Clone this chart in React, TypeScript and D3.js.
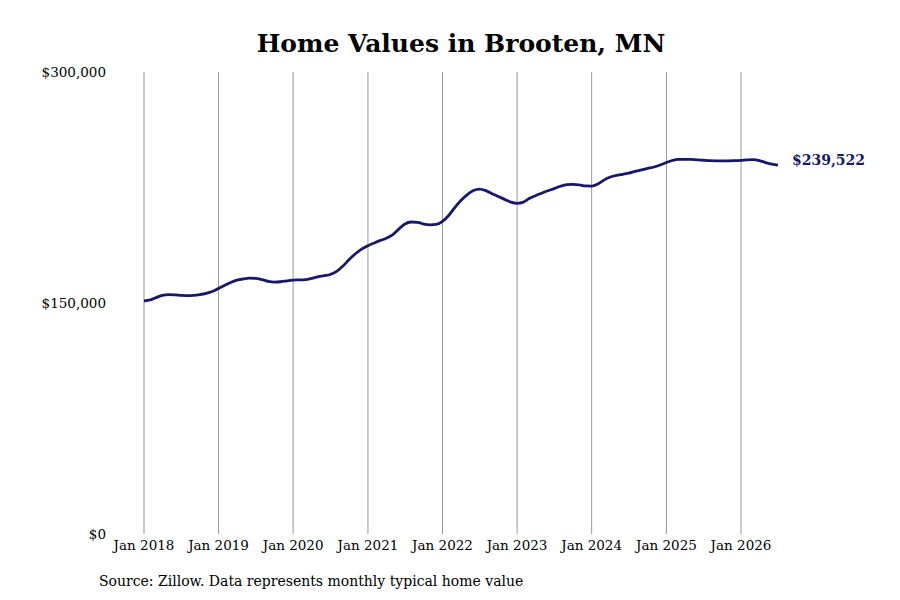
import React from "react";
import * as d3 from "d3";

const startYear = 2018;
const startMonth = 0;
const values: number[] = [
  151300, 152000, 153500, 155000, 155400, 155300, 155000, 154800, 155000, 155500, 156300, 157500,
  159500, 161500, 163300, 164800, 165600, 166100, 166000, 165200, 164000, 163500, 163800, 164400,
  164900, 165000, 165200, 166000, 167000, 167700, 168500, 170500, 174000, 178200, 182000, 185000,
  187200, 189000, 190500, 192000, 194200, 198000, 201300, 202600, 202400, 201200, 200700, 201000,
  203000, 207000, 211800, 216500, 220200, 223000, 224000, 223000, 221000, 219200, 217300, 215500,
  214700, 215500, 217800, 219700, 221300, 222900, 224300, 225800, 226800, 227000, 226700, 226000,
  225900, 227300, 229800, 231800, 232900, 233600, 234300, 235500, 236500, 237400, 238300, 239600,
  241200, 242600, 243200, 243300, 243200, 243000, 242700, 242400, 242300, 242300, 242300, 242400,
  242600, 243000, 243100, 242500, 241200, 240100, 239522,
];
const tickYears = [2018, 2019, 2020, 2021, 2022, 2023, 2024, 2025, 2026];
const yTicks = [0, 150000, 300000];
const title = "Home Values in Brooten, MN";
const source = "Source: Zillow. Data represents monthly typical home value";

const data = values.map((v, i) => ({ date: new Date(startYear, startMonth + i, 1), value: v }));

export default function App() {
  const W = 900, H = 600;
  const x = d3.scaleTime().domain([new Date(2018, 0, 1), new Date(2026, 0, 1)]).range([144, 741]);
  const y = d3.scaleLinear().domain([0, 300000]).range([534, 72]);
  const line = d3
    .line<{ date: Date; value: number }>()
    .x((d) => x(d.date))
    .y((d) => y(d.value))
    .curve(d3.curveMonotoneX);
  const fmt = d3.format("$,");
  const last = data[data.length - 1];
  const font = "'DejaVu Serif', serif";
  return (
    <svg width={W} height={H} style={{ position: "absolute", left: 0, top: 0, background: "#fff" }} fontFamily={font}>
      <rect width={W} height={H} fill="#fff" />
      <text x={461} y={52} textAnchor="middle" fontSize={25} fontWeight="bold" fill="#000">
        {title}
      </text>
      {tickYears.map((yr) => {
        const xx = x(new Date(yr, 0, 1));
        return (
          <g key={yr}>
            <line x1={xx} x2={xx} y1={y(300000)} y2={y(0)} stroke="#999" strokeWidth={1} />
            <text x={xx} y={550} textAnchor="middle" fontSize={13.5} fill="#000">
              {`Jan ${yr}`}
            </text>
          </g>
        );
      })}
      {yTicks.map((t) => (
        <text key={t} x={106} y={y(t) + 5} textAnchor="end" fontSize={13.5} fill="#000">
          {fmt(t)}
        </text>
      ))}
      <path d={line(data) || ""} fill="none" stroke="#17176b" strokeWidth={2.8} />
      <text x={792} y={y(last.value)} fontSize={14} fontWeight="bold" fill="#17176b">
        {fmt(last.value)}
      </text>
      <text x={99} y={586} fontSize={14} fill="#000">
        {source}
      </text>
    </svg>
  );
}
